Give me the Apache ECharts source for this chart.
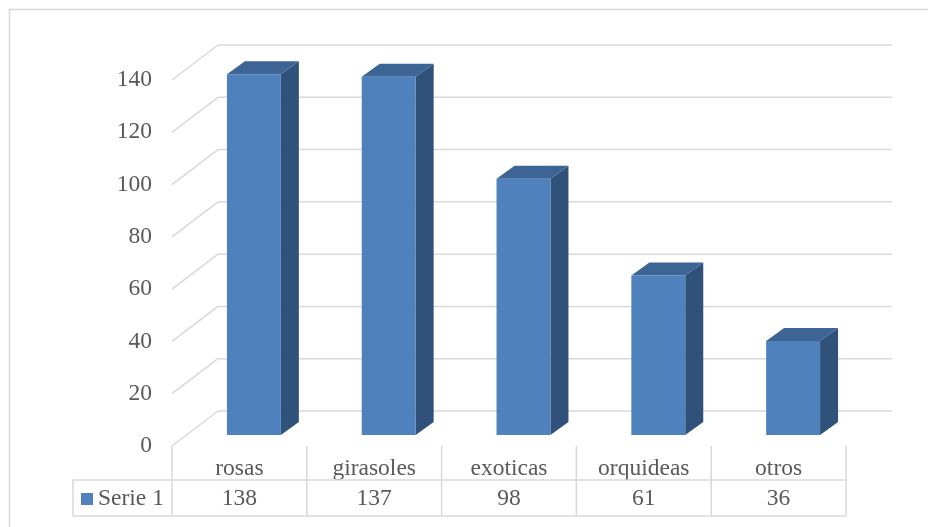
<!DOCTYPE html>
<html>
<head>
<meta charset="utf-8">
<script src="https://cdn.jsdelivr.net/npm/echarts@6/dist/echarts.min.js"></script>
<style>
  html, body { margin: 0; padding: 0; background: #ffffff; }
  #chart { width: 928px; height: 527px; }
</style>
</head>
<body>
<div id="chart"></div>
<script>
// Flower sales by type
const categories = ['rosas', 'girasoles', 'exoticas', 'orquideas', 'otros'];
const seriesName = 'Serie 1';
const values = [138, 137, 98, 61, 36];
const yTicks = [0, 20, 40, 60, 80, 100, 120, 140];

const FONT = '"Liberation Serif", "Times New Roman", serif';
const FONT_SIZE = 23.5;
const TEXT = '#595959';
const GRID_LINE = '#d9d9d9';
const FRONT = '#4f81bd';
const TOP = '#3c6595';
const SIDE = '#30527a';

// Perspective offsets relative to the front plane (the grid)
const WALL_DX = 46, WALL_DY = -35;   // back wall
const BAR_DX = 14.5, BAR_DY = -11;   // plane of the bars' front faces
const DEPTH_DX = 18, DEPTH_DY = -13; // bar depth

const chart = echarts.init(document.getElementById('chart'));

const option = {
  animation: false,
  backgroundColor: '#ffffff',
  graphic: [{
    type: 'rect',
    shape: { x: 9.5, y: 9.5, width: 940, height: 540 },
    style: { fill: 'none', stroke: GRID_LINE, lineWidth: 1.5 },
    silent: true
  }],
  legend: {
    data: [seriesName],
    left: 76,
    top: 482,
    icon: 'rect',
    itemWidth: 12,
    itemHeight: 12,
    itemGap: 6,
    textStyle: { fontFamily: FONT, fontSize: FONT_SIZE, color: TEXT },
    selectedMode: false
  },
  grid: { left: 172, top: 80, width: 674, height: 366 },
  xAxis: [{
    type: 'category',
    data: categories,
    position: 'bottom',
    axisLine: { show: false },
    axisTick: { show: false },
    axisLabel: { margin: 11, fontFamily: FONT, fontSize: FONT_SIZE, color: TEXT }
  }, {
    type: 'category',
    data: values.map(String),
    position: 'bottom',
    offset: 34,
    axisLine: { show: false },
    axisTick: { show: false },
    axisLabel: { margin: 7, fontFamily: FONT, fontSize: FONT_SIZE, color: TEXT }
  }],
  yAxis: {
    type: 'value',
    min: 0,
    max: 140,
    interval: 20,
    axisLine: { show: false },
    axisTick: { show: false },
    splitLine: { show: false },
    axisLabel: {
      margin: 20,
      padding: [6, 0, 0, 0],
      fontFamily: FONT,
      fontSize: FONT_SIZE,
      color: TEXT
    }
  },
  series: [{
    // back wall gridlines with the diagonal side-wall lines
    type: 'custom',
    name: 'walls',
    data: yTicks.map(v => [0, v]),
    silent: true,
    z: 1,
    renderItem: function (params, api) {
      const left = params.coordSys.x;
      const right = left + params.coordSys.width;
      const y = api.coord([0, api.value(1)])[1];
      const style = { stroke: GRID_LINE, lineWidth: 1.5, fill: 'none' };
      return {
        type: 'group',
        children: [{
          type: 'line',
          shape: { x1: left, y1: y, x2: left + WALL_DX, y2: y + WALL_DY },
          style: style
        }, {
          type: 'line',
          shape: { x1: left + WALL_DX, y1: y + WALL_DY, x2: right + WALL_DX, y2: y + WALL_DY },
          style: style
        }]
      };
    }
  }, {
    // data table grid below the plot
    type: 'custom',
    name: 'table',
    data: categories.map((c, i) => [i, 0]),
    silent: true,
    z: 1,
    renderItem: function (params, api) {
      const i = api.value(0);
      const c = api.coord([i, 0]);
      const band = api.size([1, 0])[0];
      const top = c[1];
      const rowSep = top + 34;
      const bottom = top + 70;
      const style = { stroke: GRID_LINE, lineWidth: 1.5, fill: 'none' };
      const xl = c[0] - band / 2, xr = c[0] + band / 2;
      const children = [
        { type: 'line', shape: { x1: xr, y1: top, x2: xr, y2: bottom }, style: style },
        { type: 'line', shape: { x1: xl, y1: rowSep, x2: xr, y2: rowSep }, style: style },
        { type: 'line', shape: { x1: xl, y1: bottom, x2: xr, y2: bottom }, style: style }
      ];
      if (i === 0) {
        const legendLeft = 73;
        children.push(
          { type: 'line', shape: { x1: xl, y1: top, x2: xl, y2: bottom }, style: style },
          { type: 'line', shape: { x1: legendLeft, y1: rowSep, x2: xl, y2: rowSep }, style: style },
          { type: 'line', shape: { x1: legendLeft, y1: bottom, x2: xl, y2: bottom }, style: style },
          { type: 'line', shape: { x1: legendLeft, y1: rowSep, x2: legendLeft, y2: bottom }, style: style }
        );
      }
      return { type: 'group', children: children };
    }
  }, {
    // 3D columns
    type: 'custom',
    name: seriesName,
    data: values.map((v, i) => [i, v]),
    itemStyle: { color: FRONT },
    z: 3,
    renderItem: function (params, api) {
      const i = api.value(0);
      const base = api.coord([i, 0]);
      const topPt = api.coord([i, api.value(1)]);
      const band = api.size([1, 0])[0];
      const w = band * 0.4;
      const cx = base[0] + BAR_DX;
      const yb = base[1] + BAR_DY;
      const yt = topPt[1] + BAR_DY;
      const xl = cx - w / 2, xr = cx + w / 2;
      return {
        type: 'group',
        children: [{
          type: 'polygon',
          shape: { points: [[xr, yt], [xr + DEPTH_DX, yt + DEPTH_DY], [xr + DEPTH_DX, yb + DEPTH_DY], [xr, yb]] },
          style: { fill: SIDE }
        }, {
          type: 'polygon',
          shape: { points: [[xl, yt], [xr, yt], [xr + DEPTH_DX, yt + DEPTH_DY], [xl + DEPTH_DX, yt + DEPTH_DY]] },
          style: { fill: TOP }
        }, {
          type: 'rect',
          shape: { x: xl, y: yt, width: w, height: yb - yt },
          style: { fill: FRONT }
        }]
      };
    }
  }]
};

chart.setOption(option);
</script>
</body>
</html>
